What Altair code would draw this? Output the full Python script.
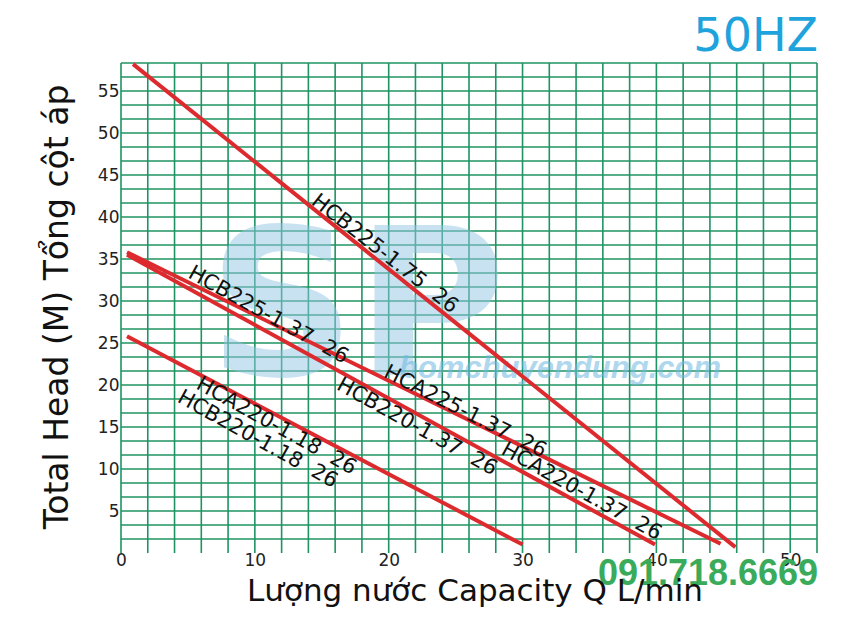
import altair as alt
import pandas as pd

# ---- data ----
curve_names = ["HCB225-1.75", "HCA225-1.37", "HCA220-1.37", "HCA220-1.18"]
q_start = [0.9, 0.45, 0.45, 0.45]
q_end = [45.9, 44.8, 39.9, 30.0]
h_start = [58.2, 35.8, 35.5, 25.8]
h_end = [0.7, 1.1, 1.0, 1.0]

label_texts = [
    "HCB225-1.75\u00a0\u00a026",
    "HCB225-1.37\u00a0\u00a026",
    "HCA225-1.37\u00a0\u00a026",
    "HCB220-1.37\u00a0\u00a026",
    "HCA220-1.37\u00a0\u00a026",
    "HCA220-1.18\u00a0\u00a026",
    "HCB220-1.18\u00a0\u00a026",
]
label_q = [19.7, 11.0, 25.7, 22.1, 34.4, 11.6, 10.2]
label_h = [35.6, 28.3, 16.8, 15.0, 7.3, 15.1, 13.5]
label_angle = [38, 29, 27, 29, 29, 29, 29]

x_ticks = [0, 10, 20, 30, 40, 50]
y_ticks = [5, 10, 15, 20, 25, 30, 35, 40, 45, 50, 55]
x_grid = list(range(0, 53, 2))
y_grid = [k * 5 / 3 for k in range(1, 36)]
X_MAX = 52
Y_MAX = 35 * 5 / 3

RED = "#dd2a2e"
GRID = "#1f9463"
FONT = "DejaVu Sans"

# ---- tables ----
rows = []
for n, qs, qe, hs, he in zip(curve_names, q_start, q_end, h_start, h_end):
    rows.append({"curve": n, "Q": qs, "H": hs})
    rows.append({"curve": n, "Q": qe, "H": he})
curves = pd.DataFrame(rows)

labels = pd.DataFrame({"text": label_texts, "Q": label_q, "H": label_h, "ang": label_angle})
vgrid = pd.DataFrame({"Q": x_grid, "H": [0] * len(x_grid), "H2": [Y_MAX] * len(x_grid)})
hgrid = pd.DataFrame({"H": y_grid, "Q": [0] * len(y_grid), "Q2": [X_MAX] * len(y_grid)})

xs = alt.Scale(domain=[0, X_MAX], nice=False, zero=False)
ys = alt.Scale(domain=[0, Y_MAX], nice=False, zero=False)
x_axis = alt.Axis(values=x_ticks, title=None, domain=False, ticks=False, grid=False,
                  labelFlush=False, labelPadding=-1, labelFontSize=17, labelFont=FONT,
                  labelColor="#222222")
y_axis = alt.Axis(values=y_ticks, title=None, domain=False, ticks=False, grid=False,
                  labelFlush=False, labelPadding=2, labelFontSize=17, labelFont=FONT,
                  labelColor="#222222")

X = alt.X("Q:Q", scale=xs, axis=x_axis)
Y = alt.Y("H:Q", scale=ys, axis=y_axis)

vlines = alt.Chart(vgrid).mark_rule(color=GRID, strokeWidth=1.6).encode(x=X, y=Y, y2="H2:Q")
hlines = alt.Chart(hgrid).mark_rule(color=GRID, strokeWidth=1.6).encode(y=Y, x=X, x2="Q2:Q")

wm_sp = alt.Chart(pd.DataFrame({"t": ["SP"]})).mark_text(
    fontSize=205, font=FONT, fontWeight="bold", color="#93c6e4", opacity=0.5,
    align="center", baseline="alphabetic"
).encode(x=alt.value(236), y=alt.value(312), text="t:N")
wm_url = alt.Chart(pd.DataFrame({"t": ["bomchuyendung.com"]})).mark_text(
    fontSize=31, font="Liberation Sans", fontWeight="bold", fontStyle="italic",
    color="#6fb9e2", opacity=0.55, align="center", baseline="alphabetic"
).encode(x=alt.value(439), y=alt.value(315), text="t:N")

lines = alt.Chart(curves).mark_line(color=RED, strokeWidth=4).encode(
    x=X, y=Y, detail="curve:N"
)

curve_labels = alt.Chart(labels).mark_text(
    fontSize=21, font=FONT, color="#111111", align="center", baseline="middle"
).encode(x=X, y=Y, text="text:N", angle=alt.Angle("ang:Q", scale=None))

hz = alt.Chart(pd.DataFrame({"t": ["50HZ"]})).mark_text(
    fontSize=46, font=FONT, color="#1fa3dc", align="right", baseline="alphabetic"
).encode(x=alt.value(697), y=alt.value(-12), text="t:N")

phone = alt.Chart(pd.DataFrame({"t": ["091.718.6669"]})).mark_text(
    fontSize=36, font="Liberation Sans", fontWeight="bold", color="#3aab5a",
    align="center", baseline="alphabetic"
).encode(x=alt.value(587), y=alt.value(522), text="t:N")

xtitle = alt.Chart(pd.DataFrame({"t": ["Lượng nước Capacity Q L/min"]})).mark_text(
    fontSize=31, font=FONT, color="#111111", align="center", baseline="alphabetic"
).encode(x=alt.value(354), y=alt.value(538), text="t:N")

ytitle = alt.Chart(pd.DataFrame({"t": ["Total Head (M) Tổng cột áp"]})).mark_text(
    fontSize=33, font=FONT, color="#111111", align="center", baseline="alphabetic", angle=270
).encode(x=alt.value(-53), y=alt.value(244), text="t:N")

chart = alt.layer(
    vlines, hlines, wm_sp, wm_url, lines, curve_labels, hz, phone, xtitle, ytitle
).properties(
    width=696, height=490,
    autosize=alt.AutoSizeParams(type="none"),
    padding={"left": 113, "top": 55, "right": 28, "bottom": 56},
    background="white",
).configure_view(strokeWidth=0)

chart.save("out.html", embed_options={"renderer": "svg", "actions": False})
